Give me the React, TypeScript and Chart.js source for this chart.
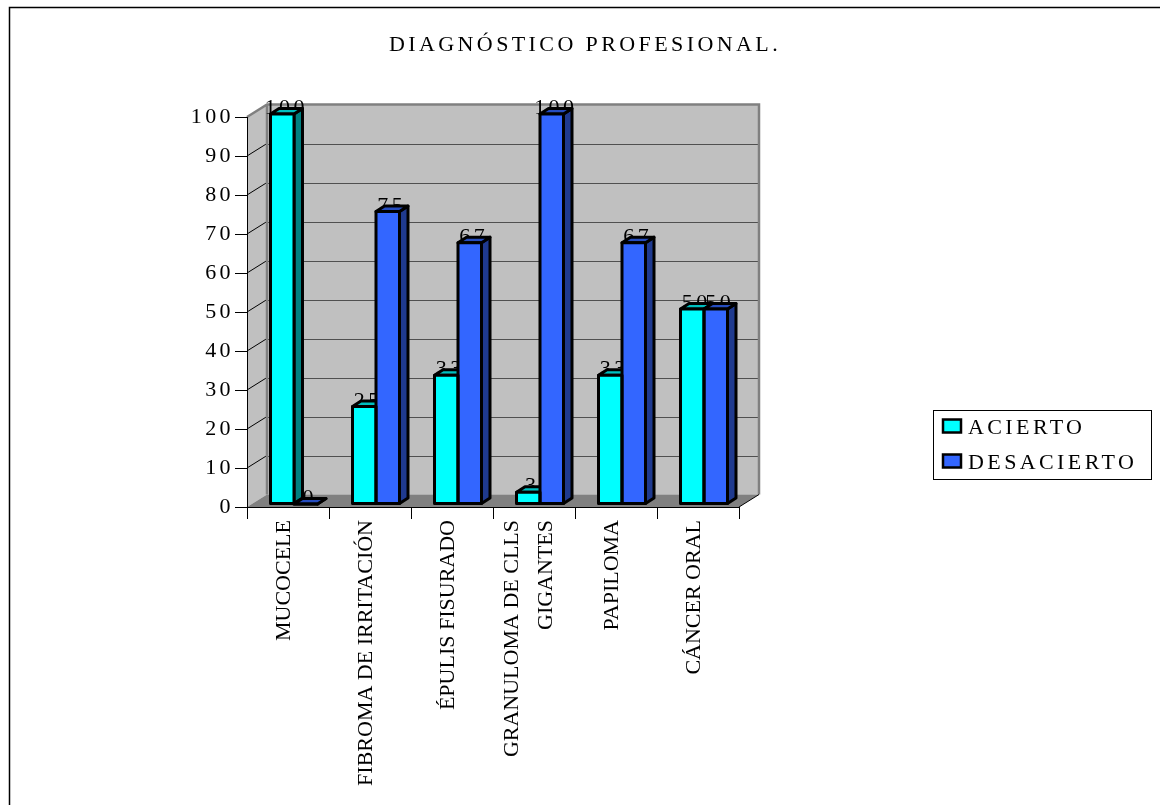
import React, { useEffect, useRef } from "react";
import { Chart, registerables } from "chart.js";

Chart.register(...registerables);

const categories = [
  "MUCOCELE",
  "FIBROMA DE IRRITACIÓN",
  "ÉPULIS FISURADO",
  ["GRANULOMA DE CLLS", "GIGANTES"],
  "PAPILOMA",
  "CÁNCER ORAL",
];
const acierto = [100, 25, 33, 3, 33, 50];
const desacierto = [0, 75, 67, 100, 67, 50];
const seriesNames = ["ACIERTO", "DESACIERTO"];
const frontColors = ["#00FFFF", "#3366FF"];
const topColors = ["#00BFBF", "#264DBF"];
const sideColors = ["#008080", "#1F3A8F"];

const SERIF = "'Liberation Serif', 'Times New Roman', serif";
const WALL = { dx: 20, dy: -12.5 };
const BAR_SHIFT = { dx: 6, dy: -3 };
const BAR_DEPTH = { dx: 8.5, dy: -5.5 };
const OUTLINE = 3;
const TEXT_SPACING = "3.4px";

// Chart.js has no per-element letter spacing, so text drawing methods get wrapped.
function withSpacing(target: any, method: string, spacing: string, ctx: any) {
  const original = target[method];
  target[method] = function (...args: any[]) {
    ctx.save();
    ctx.letterSpacing = spacing;
    original.apply(this, args);
    ctx.restore();
  };
}

function barBox(el: any) {
  const half = el.width / 2;
  return {
    left: el.x - half + BAR_SHIFT.dx,
    right: el.x + half + BAR_SHIFT.dx,
    top: el.y + BAR_SHIFT.dy,
    bottom: el.base + BAR_SHIFT.dy,
  };
}

function poly(ctx: any, pts: number[][], fill: string | null, stroke: string | null, width = 1) {
  ctx.beginPath();
  pts.forEach(([x, y], i) => (i ? ctx.lineTo(x, y) : ctx.moveTo(x, y)));
  ctx.closePath();
  if (fill) {
    ctx.fillStyle = fill;
    ctx.fill();
  }
  if (stroke) {
    ctx.strokeStyle = stroke;
    ctx.lineWidth = width;
    ctx.lineJoin = "round";
    ctx.stroke();
  }
}

const page3d = {
  id: "page3d",
  afterLayout(chart: any) {
    if (chart.$spaced) return;
    chart.$spaced = true;
    withSpacing(chart.titleBlock, "draw", TEXT_SPACING, chart.ctx);
    withSpacing(chart.scales.y, "drawLabels", TEXT_SPACING, chart.ctx);
  },
  // Page frame, walls and floor sit under the axes.
  beforeDraw(chart: any) {
    const { ctx, chartArea: a, scales } = chart;

    // Two-line category labels are centred on their slot rather than hanging from it.
    if (!chart.$centred) {
      chart.$centred = true;
      scales.x.getLabelItems(a).forEach((item: any) => {
        if (Array.isArray(item.label)) item.options.translation[0] -= 18;
      });
    }

    ctx.save();
    ctx.strokeStyle = "#000";
    ctx.lineWidth = 1.5;
    ctx.beginPath();
    ctx.moveTo(9.5, 805);
    ctx.lineTo(9.5, 7.5);
    ctx.lineTo(1160, 7.5);
    ctx.stroke();

    const { dx, dy } = WALL;
    poly(ctx, [[a.left + dx, a.top + dy], [a.right + dx, a.top + dy], [a.right + dx, a.bottom + dy], [a.left + dx, a.bottom + dy]], "#C0C0C0", null);
    poly(ctx, [[a.left, a.top], [a.left + dx, a.top + dy], [a.left + dx, a.bottom + dy], [a.left, a.bottom]], "#C0C0C0", null);
    poly(ctx, [[a.left, a.bottom], [a.left + dx, a.bottom + dy], [a.right + dx, a.bottom + dy], [a.right, a.bottom]], "#808080", null);

    // Gridlines run along the left wall, then across the back wall.
    scales.y.ticks.forEach((t: any) => {
      if (t.value === 0 || t.value === 100) return;
      const y = Math.round(scales.y.getPixelForValue(t.value));
      ctx.lineWidth = 1;
      ctx.strokeStyle = "#000";
      ctx.beginPath();
      ctx.moveTo(a.left, y);
      ctx.lineTo(a.left + dx, y + dy);
      ctx.stroke();
      ctx.strokeStyle = "#505050";
      ctx.beginPath();
      ctx.moveTo(a.left + dx, Math.round(y + dy) + 0.5);
      ctx.lineTo(a.right + dx, Math.round(y + dy) + 0.5);
      ctx.stroke();
    });

    // Grey edge of the walls.
    ctx.strokeStyle = "#808080";
    ctx.lineWidth = 2.5;
    ctx.beginPath();
    ctx.moveTo(a.left, a.top);
    ctx.lineTo(a.left + dx, a.top + dy);
    ctx.lineTo(a.right + dx, a.top + dy);
    ctx.lineTo(a.right + dx, a.bottom + dy);
    ctx.moveTo(a.left + dx, a.top + dy);
    ctx.lineTo(a.left + dx, a.bottom + dy);
    ctx.stroke();

    ctx.strokeStyle = "#000";
    ctx.lineWidth = 1;
    ctx.beginPath();
    ctx.moveTo(a.right, a.bottom);
    ctx.lineTo(a.right + dx, a.bottom + dy);
    ctx.stroke();
    ctx.restore();
  },
  // Value labels first, then the side and top faces of each bar.
  beforeDatasetsDraw(chart: any) {
    const { ctx } = chart;
    ctx.save();
    chart.data.datasets.forEach((ds: any, i: number) => {
      const meta = chart.getDatasetMeta(i);
      meta.data.forEach((el: any, k: number) => {
        const b = barBox(el);
        ctx.font = `22px ${SERIF}`;
        ctx.letterSpacing = TEXT_SPACING;
        ctx.textAlign = "center";
        ctx.textBaseline = "alphabetic";
        ctx.fillStyle = "#000";
        ctx.fillText(String(ds.data[k]), (b.left + b.right) / 2 + 4, b.top);
      });
    });
    chart.data.datasets.forEach((ds: any, i: number) => {
      const meta = chart.getDatasetMeta(i);
      meta.data.forEach((el: any) => {
        const b = barBox(el);
        const { dx, dy } = BAR_DEPTH;
        poly(ctx, [[b.right, b.top], [b.right + dx, b.top + dy], [b.right + dx, b.bottom + dy], [b.right, b.bottom]], sideColors[i], "#000", OUTLINE);
        poly(ctx, [[b.left, b.top], [b.left + dx, b.top + dy], [b.right + dx, b.top + dy], [b.right, b.top]], topColors[i], "#000", OUTLINE);
      });
    });
    ctx.restore();
  },
  beforeDatasetDraw(chart: any) {
    chart.ctx.save();
    chart.ctx.translate(BAR_SHIFT.dx, BAR_SHIFT.dy);
  },
  afterDatasetDraw(chart: any) {
    chart.ctx.restore();
  },
  // Front outlines share one stroke between neighbouring bars.
  afterDatasetsDraw(chart: any) {
    const { ctx } = chart;
    ctx.save();
    chart.data.datasets.forEach((_: any, i: number) => {
      chart.getDatasetMeta(i).data.forEach((el: any) => {
        const b = barBox(el);
        poly(ctx, [[b.left, b.top], [b.right, b.top], [b.right, b.bottom], [b.left, b.bottom]], null, "#000", OUTLINE);
      });
    });
    ctx.restore();
  },
  // Boxed legend to the right of the plot, built from the dataset names and colours.
  afterDraw(chart: any) {
    const { ctx } = chart;
    ctx.save();
    ctx.strokeStyle = "#000";
    ctx.lineWidth = 1;
    ctx.strokeRect(933.5, 410.5, 218, 69);
    const rows = [434, 469];
    chart.data.datasets.forEach((ds: any, i: number) => {
      const base = rows[i];
      ctx.fillStyle = ds.backgroundColor;
      ctx.fillRect(943, base - 14.5, 18, 13);
      ctx.strokeStyle = "#000";
      ctx.lineWidth = 2.5;
      ctx.strokeRect(943, base - 14.5, 18, 13);
      ctx.fillStyle = "#000";
      ctx.font = `22px ${SERIF}`;
      ctx.letterSpacing = TEXT_SPACING;
      ctx.textAlign = "left";
      ctx.textBaseline = "alphabetic";
      ctx.fillText(ds.label, 968, base);
    });
    ctx.restore();
  },
};

export default function App() {
  const ref = useRef<HTMLCanvasElement>(null);
  useEffect(() => {
    const chart = new Chart(ref.current as HTMLCanvasElement, {
      type: "bar",
      plugins: [page3d],
      data: {
        labels: categories as any,
        datasets: [
          { label: seriesNames[0], data: acierto, backgroundColor: frontColors[0], barThickness: 23.5, clip: false as any },
          { label: seriesNames[1], data: desacierto, backgroundColor: frontColors[1], barThickness: 23.5, clip: false as any },
        ],
      },
      options: {
        animation: false,
        responsive: false,
        layout: { padding: { left: 10, right: 0, top: 0, bottom: 0 }, autoPadding: false },
        plugins: {
          legend: { display: false },
          tooltip: { enabled: false },
          title: {
            display: true,
            text: "DIAGNÓSTICO PROFESIONAL.",
            color: "#000",
            font: { family: SERIF, size: 22, weight: "normal", lineHeight: 1.2 },
            padding: { top: 31.8, bottom: 58.8 },
          },
        },
        scales: {
          x: {
            offset: true,
            border: { display: true, color: "#000", width: 1 },
            grid: { display: true, drawOnChartArea: false, drawTicks: true, tickLength: 12, color: "#000", offset: true },
            ticks: {
              autoSkip: false,
              minRotation: 90,
              maxRotation: 90,
              padding: 1,
              labelOffset: -4,
              color: "#000",
              font: { family: SERIF, size: 22, lineHeight: 1.545 },
            },
            afterFit: (s: any) => {
              s.height = 298;
            },
          },
          y: {
            min: 0,
            max: 100,
            border: { display: true, color: "#000", width: 1 },
            grid: { display: true, drawOnChartArea: false, drawTicks: true, tickLength: 12, color: "#000" },
            ticks: { stepSize: 10, padding: 1, color: "#000", font: { family: SERIF, size: 22 } },
            afterFit: (s: any) => {
              s.width = 237;
            },
          },
          // Empty axis that reserves the legend's column.
          spacer: {
            type: "linear",
            position: "right",
            display: true,
            border: { display: false },
            grid: { display: false },
            ticks: { display: false },
            afterFit: (s: any) => {
              s.width = 421;
            },
          },
        },
      } as any,
    });
    return () => chart.destroy();
  }, []);
  return (
    <canvas
      ref={ref}
      width={1160}
      height={805}
      style={{ position: "fixed", left: 0, top: 0, width: 1160, height: 805 }}
    />
  );
}
